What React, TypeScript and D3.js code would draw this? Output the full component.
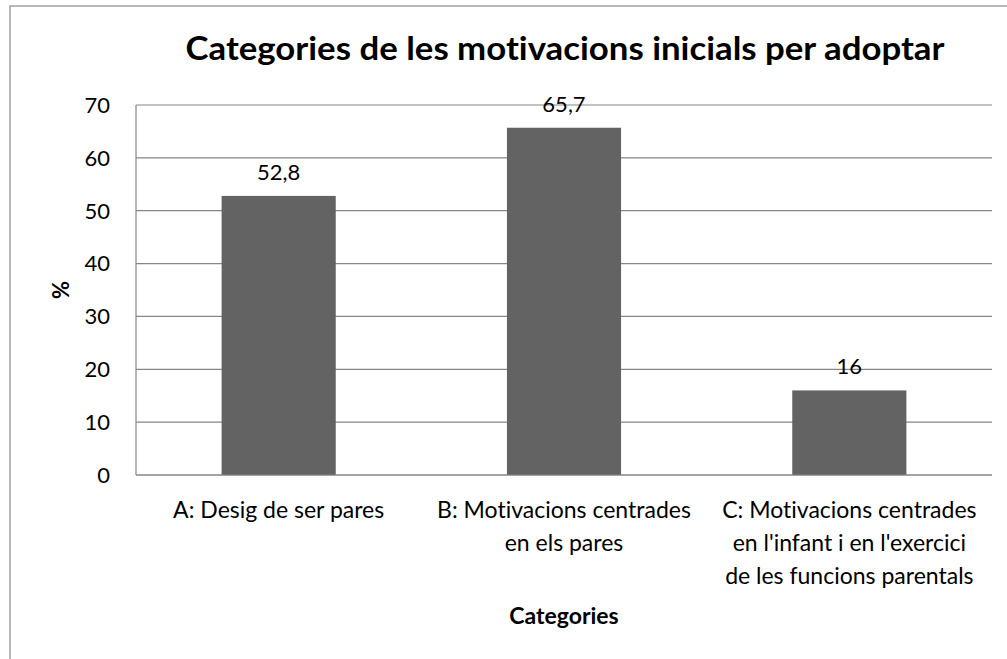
import React from "react";
import * as d3 from "d3";

const categories = [
  ["A: Desig de ser pares"],
  ["B: Motivacions centrades", "en els pares"],
  ["C: Motivacions centrades", "en l'infant i en l'exercici", "de les funcions parentals"],
];
const values = [52.8, 65.7, 16];
const valueLabels = ["52,8", "65,7", "16"];
const yTicks = [0, 10, 20, 30, 40, 50, 60, 70];
const title = "Categories de les motivacions inicials per adoptar";
const xTitle = "Categories";
const yTitle = "%";

const W = 1007;
const H = 659;
const plot = { left: 136, right: 992, top: 105, bottom: 475 };
const FONT = "Lato, 'Open Sans', sans-serif";

export default function App() {
  const x = d3
    .scaleBand<number>()
    .domain(d3.range(categories.length))
    .range([plot.left, plot.right])
    .padding(0);
  const y = d3.scaleLinear().domain([0, 70]).range([plot.bottom, plot.top]);
  const barW = x.bandwidth() * 0.4;
  const gridColor = "#868686";

  return (
    <svg
      width={W}
      height={H}
      style={{ position: "absolute", left: 0, top: 0, background: "#fff", fontVariantLigatures: "none" }}
      fontFamily={FONT}
    >
      <rect x={0} y={0} width={W} height={H} fill="#fff" />
      {/* outer chart border (extends past the viewport on the right and bottom) */}
      <rect x={10} y={6} width={W + 20} height={H + 20} fill="none" stroke="#a0a0a0" strokeWidth={1.5} />

      <text
        x={565}
        y={60}
        textAnchor="middle"
        fontSize={33}
        fontWeight="bold"
        fill="#000"
        textLength={759}
        lengthAdjust="spacingAndGlyphs"
      >
        {title}
      </text>

      {/* gridlines */}
      {yTicks.map((t) => (
        <line
          key={"g" + t}
          x1={plot.left}
          x2={plot.right}
          y1={y(t)}
          y2={y(t)}
          stroke={gridColor}
          strokeWidth={1.2}
        />
      ))}
      {/* y axis line */}
      <line x1={plot.left} x2={plot.left} y1={plot.top} y2={plot.bottom} stroke={gridColor} strokeWidth={1.2} />

      {/* tick labels */}
      {yTicks.map((t) => (
        <text
          key={"t" + t}
          x={110}
          y={y(t)}
          dy="0.36em"
          textAnchor="end"
          fontSize={22}
          fill="#000"
        >
          {t}
        </text>
      ))}

      {/* bars */}
      {values.map((v, i) => {
        const cx = (x(i) as number) + x.bandwidth() / 2;
        return (
          <g key={"b" + i}>
            <rect x={cx - barW / 2} y={y(v)} width={barW} height={y(0) - y(v)} fill="#636363" />
            <text x={cx} y={y(v) - 16} textAnchor="middle" fontSize={22} fill="#000">
              {valueLabels[i]}
            </text>
          </g>
        );
      })}
      {/* baseline on top of bars */}
      <line x1={plot.left} x2={plot.right} y1={y(0)} y2={y(0)} stroke={gridColor} strokeWidth={1.2} />

      {/* category labels */}
      {categories.map((lines, i) => {
        const cx = (x(i) as number) + x.bandwidth() / 2;
        return (
          <text key={"c" + i} textAnchor="middle" fontSize={23} fill="#000">
            {lines.map((ln, j) => (
              <tspan key={j} x={cx} y={518 + j * 33}>
                {ln}
              </tspan>
            ))}
          </text>
        );
      })}

      {/* axis titles */}
      <text x={564} y={624} textAnchor="middle" fontSize={23} fontWeight="bold" fill="#000">
        {xTitle}
      </text>
      <text
        transform={`translate(69, ${(plot.top + plot.bottom) / 2}) rotate(-90)`}
        textAnchor="middle"
        fontSize={22}
        fontWeight="bold"
        fill="#000"
      >
        {yTitle}
      </text>
    </svg>
  );
}
